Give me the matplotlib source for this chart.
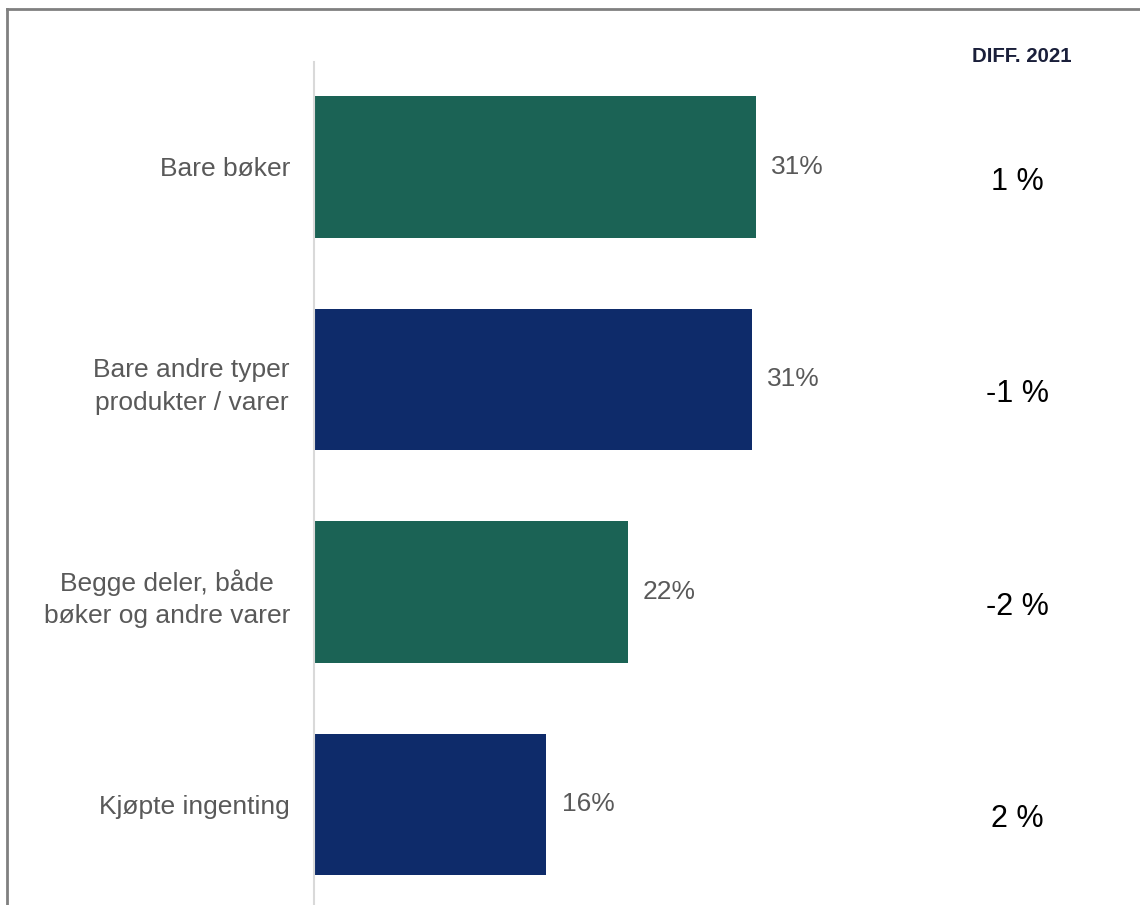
import matplotlib
matplotlib.use("Agg")
import matplotlib.pyplot as plt
from matplotlib.lines import Line2D
import matplotlib.transforms as mtransforms

categories = ["Bare bøker", "Bare andre typer\nprodukter / varer",
              "Begge deler, både\nbøker og andre varer", "Kjøpte ingenting"]
values = [31.0, 30.7, 22.0, 16.3]
value_labels = ["31%", "31%", "22%", "16%"]
diff_labels = ["1 %", "-1 %", "-2 %", "2 %"]
diff_title = "DIFF. 2021"
colors = ["#1b6355", "#0e2b6a", "#1b6355", "#0e2b6a"]

plt.rcParams['font.family'] = ['Liberation Sans', 'DejaVu Sans']

W, H = 1140, 905
fig = plt.figure(figsize=(W / 100, H / 100), dpi=100)

ax_left = 314 / W
ax_top = 1 - 62 / H
ax = fig.add_axes([ax_left, 0, 1 - ax_left, ax_top])

pos = list(range(len(categories)))
ax.barh(pos, values, height=0.668, color=colors)
ax.set_xlim(0, (W - 314) / 14.26)
ax.set_ylim(3.473, -0.494)

for s in ["top", "right", "bottom"]:
    ax.spines[s].set_visible(False)
ax.spines["left"].set_color("#d9d9d9")
ax.spines["left"].set_linewidth(1.5)
ax.set_xticks([])
ax.set_yticks(pos)
ax.set_yticklabels(categories, fontsize=19, color="#595959", linespacing=1.45)
for lab in ax.get_yticklabels():
    lab.set_multialignment("center")
ax.tick_params(axis="y", length=0, pad=17.3)

for p, v, t in zip(pos, values, value_labels):
    ax.annotate(t, xy=(v, p), xytext=(11, 0), textcoords="offset points",
                ha="left", va="center", fontsize=19, color="#595959")

blend = mtransforms.blended_transform_factory(fig.transFigure, ax.transData)
for p, t in zip(pos, diff_labels):
    ax.text(1017 / W, p + 0.07, t, transform=blend, ha="center", va="center",
            fontsize=22, color="#000000", clip_on=False)

fig.text(1022 / W, 1 - 57 / H, diff_title, ha="center", va="center",
         fontsize=14.7, fontweight="bold", color="#1a1f3a")

# outer border (left and top visible)
fig.add_artist(Line2D([7 / W, 7 / W], [0, 1 - 9 / H], transform=fig.transFigure,
                      color="#808080", linewidth=2))
fig.add_artist(Line2D([7 / W, 1], [1 - 9 / H, 1 - 9 / H], transform=fig.transFigure,
                      color="#808080", linewidth=2))

fig.savefig("out.png", dpi=100)
